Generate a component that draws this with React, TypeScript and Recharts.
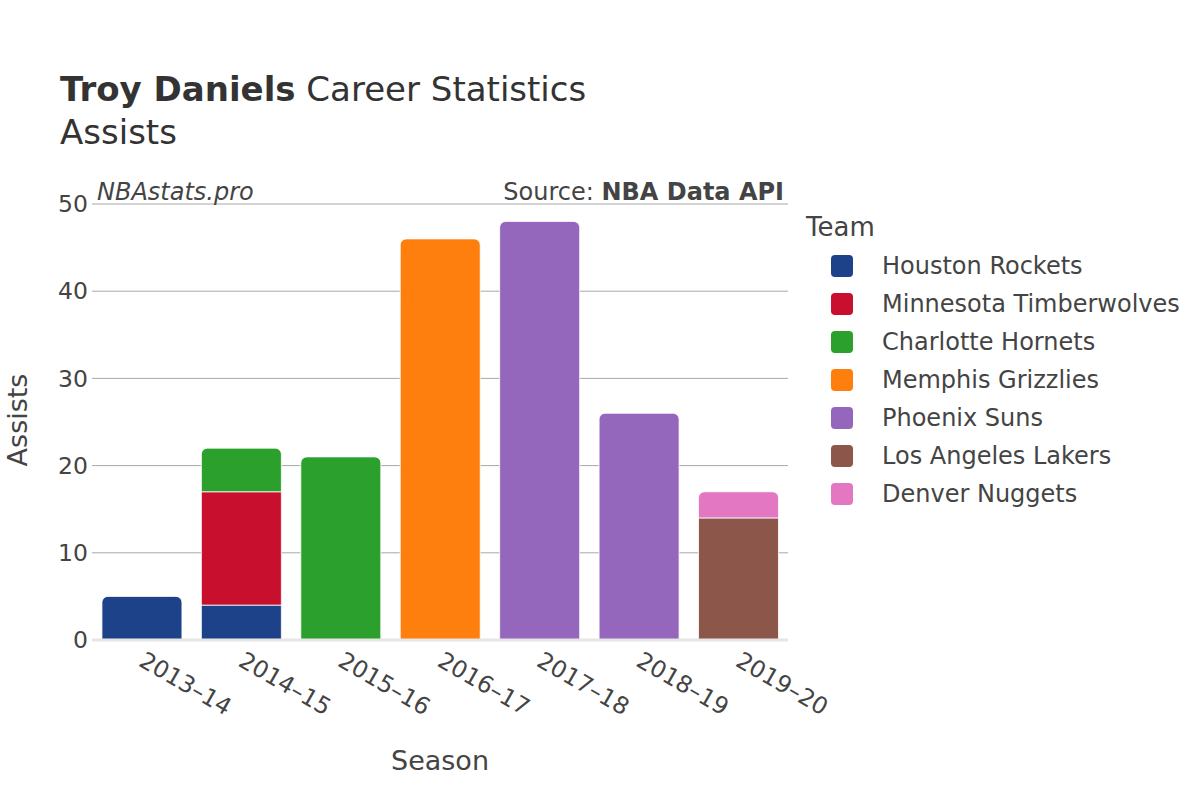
import React from 'react';
import { BarChart, Bar, XAxis, YAxis, CartesianGrid, ReferenceLine } from 'recharts';

const seasons = ['2013–14', '2014–15', '2015–16', '2016–17', '2017–18', '2018–19', '2019–20'];
const teams = [
  'Houston Rockets',
  'Minnesota Timberwolves',
  'Charlotte Hornets',
  'Memphis Grizzlies',
  'Phoenix Suns',
  'Los Angeles Lakers',
  'Denver Nuggets'
];
const teamColors = ['#1d428a', '#c8102e', '#2ca02c', '#ff7f0e', '#9467bd', '#8c564b', '#e377c2'];

// assists per season, null where the player was not on that team
const houstonRockets = [5, 4, null, null, null, null, null];
const minnesotaTimberwolves = [null, 13, null, null, null, null, null];
const charlotteHornets = [null, 5, 21, null, null, null, null];
const memphisGrizzlies = [null, null, null, 46, null, null, null];
const phoenixSuns = [null, null, null, null, 48, 26, null];
const losAngelesLakers = [null, null, null, null, null, null, 14];
const denverNuggets = [null, null, null, null, null, null, 3];

const yTicks = [0, 10, 20, 30, 40, 50];

const teamValues = [
  houstonRockets,
  minnesotaTimberwolves,
  charlotteHornets,
  memphisGrizzlies,
  phoenixSuns,
  losAngelesLakers,
  denverNuggets
];

const data = seasons.map((season, i) => {
  const row: any = { season };
  teams.forEach((t, j) => {
    row[t] = teamValues[j][i];
  });
  return row;
});

const FONT = '"DejaVu Sans", sans-serif';
const TEXT = '#444';

// only the top segment of each stack gets rounded corners
const makeShape = (teamIndex: number) => (props: any) => {
  const { x, y, width, height, fill, payload } = props;
  if (!height || height <= 0) return null;
  const isTop = teams.slice(teamIndex + 1).every(t => !payload[t]);
  const r = isTop ? Math.min(6, height, width / 2) : 0;
  const d = `M${x},${y + height} L${x},${y + r} A${r},${r} 0 0 1 ${x + r},${y} L${x + width - r},${y} A${r},${r} 0 0 1 ${x + width},${y + r} L${x + width},${y + height} Z`;
  return <path d={d} fill={fill} stroke="#fff" strokeWidth={0.8} />;
};

const XTick = ({ x, y, payload }: any) => (
  <g transform={`translate(${x},${y + 18})`}>
    <text transform="rotate(30)" textAnchor="start" dy="0.35em" fontSize={23.5} fill={TEXT} fontFamily={FONT}>
      {payload.value}
    </text>
  </g>
);

const YTick = ({ x, y, payload }: any) => (
  <text x={x - 4} y={y} dy="0.35em" textAnchor="end" fontSize={23.5} fill={TEXT} fontFamily={FONT}>
    {payload.value}
  </text>
);

export default function App() {
  return (
    <div style={{ position: 'absolute', left: 0, top: 0, width: 1200, height: 800, background: '#fff', fontFamily: FONT }}>
      <BarChart
        width={1200}
        height={800}
        data={data}
        margin={{ top: 204, right: 412, bottom: 60, left: 52 }}
        barCategoryGap="10%"
      >
        <CartesianGrid vertical={false} stroke="#a8a8a8" strokeWidth={1} />
        <XAxis
          dataKey="season"
          height={100}
          tickLine={false}
          axisLine={false}
          tickSize={0}
          tickMargin={0}
          interval={0}
          tick={<XTick />}
        />
        <YAxis
          width={40}
          domain={[0, 50]}
          ticks={yTicks}
          tickLine={false}
          axisLine={false}
          tickSize={0}
          tickMargin={0}
          tick={<YTick />}
        />
        {teams.map((t, i) => (
          <Bar
            key={t}
            dataKey={t}
            stackId="a"
            fill={teamColors[i]}
            isAnimationActive={false}
            shape={makeShape(i)}
          />
        ))}
        <ReferenceLine y={0} stroke="#e6e6e6" strokeWidth={3} />
      </BarChart>

      <svg
        width={1200}
        height={800}
        style={{ position: 'absolute', left: 0, top: 0, pointerEvents: 'none' }}
        fontFamily={FONT}
      >
        <text x={60} y={101} fontSize={34} fill="#333">
          <tspan fontWeight="bold">Troy Daniels</tspan> Career Statistics
        </text>
        <text x={60} y={144} fontSize={34} fill="#333">Assists</text>
        <text x={97} y={200} fontSize={24} fontStyle="italic" fill={TEXT}>NBAstats.pro</text>
        <text x={784} y={200} fontSize={24} textAnchor="end" fill={TEXT}>
          Source: <tspan fontWeight="bold">NBA Data API</tspan>
        </text>
        <text transform="translate(27,420) rotate(-90)" textAnchor="middle" fontSize={27} fill={TEXT}>Assists</text>
        <text x={440} y={770} textAnchor="middle" fontSize={27} fill={TEXT}>Season</text>

        <text x={806} y={236} fontSize={26} fill={TEXT}>Team</text>
        {teams.map((t, i) => {
          const cy = 266 + i * 38;
          return (
            <g key={t}>
              <rect x={831} y={cy - 11} width={22} height={22} rx={4} fill={teamColors[i]} />
              <text x={882} y={cy + 8} fontSize={24} fill={TEXT}>{t}</text>
            </g>
          );
        })}
      </svg>
    </div>
  );
}
